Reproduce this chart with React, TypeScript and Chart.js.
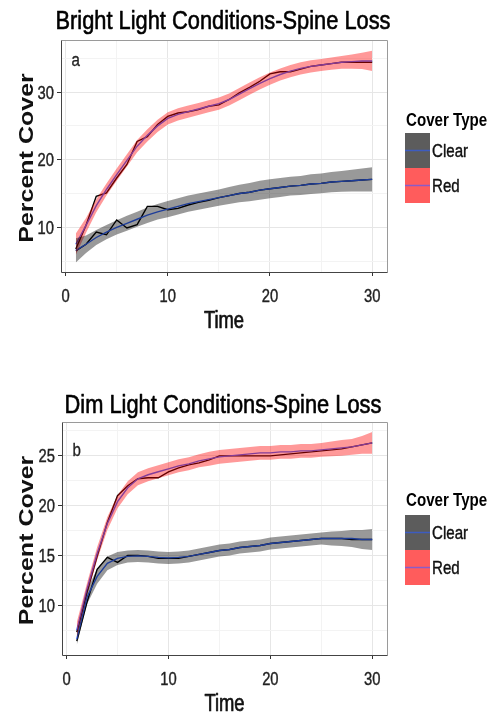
import React, { useEffect, useRef } from 'react';
import { Chart, registerables } from 'chart.js';

Chart.register(...registerables);

// ---------- data ----------
const timePoints = [1, 2, 3, 4, 5, 6, 7, 8, 9, 10, 11, 12, 13, 14, 15, 16, 17, 18, 19, 20, 21, 22, 23, 24, 25, 26, 27, 28, 29, 30];
const coverTypes = ['Clear', 'Red'];

const xMajorTicks = [0, 10, 20, 30];
const xMinorTicks = [5, 15, 25];

// Bright light (panel a)
const brightYMajor = [10, 20, 30];
const brightYMinor = [5, 15, 25, 35];
const brightClearRaw = [6.5, 7.5, 9.3, 8.9, 11.1, 9.9, 10.4, 13.1, 13.1, 12.6, 12.8, 13.3, 13.7, 14.0, 14.4, 14.7, 15.0, 15.2, 15.5, 15.7, 15.9, 16.1, 16.2, 16.4, 16.5, 16.7, 16.8, 16.9, 17.0, 17.1];
const brightClearFit = [6.6, 7.5, 8.5, 9.3, 10.0, 10.6, 11.2, 11.8, 12.3, 12.7, 13.1, 13.5, 13.8, 14.1, 14.4, 14.7, 15.0, 15.2, 15.5, 15.7, 15.9, 16.1, 16.2, 16.4, 16.5, 16.7, 16.8, 16.9, 17.0, 17.1];
const brightClearUpper = [8.4, 8.8, 9.6, 10.35, 11.05, 11.7, 12.3, 12.95, 13.45, 13.9, 14.3, 14.7, 15.0, 15.3, 15.6, 15.95, 16.3, 16.55, 16.9, 17.1, 17.3, 17.5, 17.6, 17.85, 17.95, 18.2, 18.35, 18.5, 18.7, 18.9];
const brightClearLower = [4.8, 6.2, 7.4, 8.25, 8.95, 9.5, 10.1, 10.65, 11.15, 11.5, 11.9, 12.3, 12.6, 12.9, 13.2, 13.45, 13.7, 13.85, 14.1, 14.3, 14.5, 14.7, 14.8, 14.95, 15.05, 15.2, 15.25, 15.3, 15.3, 15.3];
const brightRedRaw = [6.8, 10.3, 14.6, 15.1, 17.3, 19.3, 22.7, 23.4, 25.2, 26.4, 26.9, 27.1, 27.4, 27.9, 28.1, 28.9, 29.9, 30.7, 31.6, 32.7, 33.0, 33.0, 33.4, 33.8, 34.0, 34.2, 34.4, 34.4, 34.4, 34.4];
const brightRedFit = [7.5, 10.3, 13.2, 15.6, 17.8, 19.9, 22.0, 23.6, 25.0, 26.1, 26.7, 27.1, 27.5, 27.9, 28.3, 28.9, 29.7, 30.5, 31.3, 32.0, 32.6, 33.1, 33.5, 33.8, 34.0, 34.2, 34.4, 34.5, 34.6, 34.6];
const brightRedUpper = [9.1, 11.4, 14.15, 16.5, 18.7, 20.8, 22.9, 24.5, 25.9, 27.0, 27.6, 28.0, 28.4, 28.8, 29.2, 29.8, 30.6, 31.4, 32.2, 32.9, 33.5, 34.0, 34.4, 34.7, 34.9, 35.1, 35.35, 35.55, 35.8, 36.1];
const brightRedLower = [5.9, 9.2, 12.25, 14.7, 16.9, 19.0, 21.1, 22.7, 24.1, 25.2, 25.8, 26.2, 26.6, 27.0, 27.4, 28.0, 28.8, 29.6, 30.4, 31.1, 31.7, 32.2, 32.6, 32.9, 33.1, 33.3, 33.45, 33.45, 33.4, 33.1];

// Dim light (panel b)
const dimYMajor = [10, 15, 20, 25];
const dimYMinor = [7.5, 12.5, 17.5, 22.5, 27.5];
const dimClearRaw = [6.4, 10.3, 13.6, 14.8, 14.3, 15.0, 15.0, 14.9, 14.7, 14.7, 14.7, 14.9, 15.1, 15.3, 15.5, 15.6, 15.8, 15.9, 16.0, 16.2, 16.3, 16.4, 16.5, 16.6, 16.7, 16.7, 16.7, 16.6, 16.6, 16.6];
const dimClearFit = [6.6, 10.8, 12.9, 14.2, 14.7, 14.9, 14.95, 14.9, 14.8, 14.75, 14.8, 14.9, 15.1, 15.3, 15.5, 15.6, 15.8, 15.9, 16.0, 16.2, 16.3, 16.4, 16.5, 16.6, 16.7, 16.7, 16.7, 16.7, 16.6, 16.6];
const dimClearUpper = [7.2, 11.5, 13.65, 14.9, 15.35, 15.5, 15.55, 15.5, 15.4, 15.35, 15.4, 15.5, 15.7, 15.9, 16.1, 16.2, 16.4, 16.5, 16.6, 16.8, 16.9, 17.0, 17.1, 17.2, 17.3, 17.4, 17.45, 17.55, 17.55, 17.65];
const dimClearLower = [6.0, 10.1, 12.15, 13.5, 14.05, 14.3, 14.35, 14.3, 14.2, 14.15, 14.2, 14.3, 14.5, 14.7, 14.9, 15.0, 15.2, 15.3, 15.4, 15.6, 15.7, 15.8, 15.9, 16.0, 16.1, 16.0, 15.95, 15.85, 15.65, 15.55];
const dimRedRaw = [7.3, 11.3, 14.9, 18.3, 21.0, 22.0, 22.7, 22.8, 22.8, 23.4, 23.8, 24.1, 24.3, 24.6, 25.0, 25.0, 25.0, 25.0, 25.0, 25.0, 25.1, 25.2, 25.3, 25.4, 25.5, 25.6, 25.7, 25.9, 26.1, 26.3];
const dimRedFit = [7.5, 11.6, 15.2, 18.2, 20.4, 21.8, 22.7, 23.1, 23.4, 23.7, 24.0, 24.2, 24.5, 24.7, 24.9, 25.0, 25.1, 25.2, 25.3, 25.3, 25.4, 25.4, 25.5, 25.5, 25.6, 25.7, 25.8, 25.9, 26.1, 26.3];
const dimRedUpper = [8.3, 12.2, 15.85, 18.85, 21.05, 22.45, 23.35, 23.75, 24.05, 24.35, 24.65, 24.85, 25.15, 25.4, 25.6, 25.7, 25.8, 25.9, 26.0, 26.0, 26.1, 26.1, 26.2, 26.2, 26.3, 26.45, 26.6, 26.7, 27.0, 27.4];
const dimRedLower = [6.7, 11.0, 14.55, 17.55, 19.75, 21.15, 22.05, 22.45, 22.75, 23.05, 23.35, 23.55, 23.85, 24.0, 24.2, 24.3, 24.4, 24.5, 24.6, 24.6, 24.7, 24.7, 24.8, 24.8, 24.9, 24.95, 25.0, 25.1, 25.2, 25.2];

// ---------- styling ----------
const FONT = '"Liberation Sans", Arial, sans-serif';
const COMPRESS = 0.84;

type Panel = {
  title: string;
  letter: string;
  letterY: number;
  yMin: number;
  yMax: number;
  yMajor: number[];
  yMinor: number[];
  clearRaw: number[];
  clearFit: number[];
  clearUpper: number[];
  clearLower: number[];
  redRaw: number[];
  redFit: number[];
  redUpper: number[];
  redLower: number[];
  height: number;
  padTop: number;
  yWidth: number;
  xHeight: number;
  titleBaseline: number;
  legendTitleBaseline: number;
  legendBoxTop: number;
};

const panels: Panel[] = [
  {
    title: 'Bright Light Conditions-Spine Loss', letter: 'a', letterY: 34.6,
    yMin: 3.4, yMax: 37.7, yMajor: brightYMajor, yMinor: brightYMinor,
    clearRaw: brightClearRaw, clearFit: brightClearFit, clearUpper: brightClearUpper, clearLower: brightClearLower,
    redRaw: brightRedRaw, redFit: brightRedFit, redUpper: brightRedUpper, redLower: brightRedLower,
    height: 357, padTop: 40, yWidth: 61, xHeight: 85, titleBaseline: 29, legendTitleBaseline: 126, legendBoxTop: 133,
  },
  {
    title: 'Dim Light Conditions-Spine Loss', letter: 'b', letterY: 25.5,
    yMin: 5.0, yMax: 28.4, yMajor: dimYMajor, yMinor: dimYMinor,
    clearRaw: dimClearRaw, clearFit: dimClearFit, clearUpper: dimClearUpper, clearLower: dimClearLower,
    redRaw: dimRedRaw, redFit: dimRedFit, redUpper: dimRedUpper, redLower: dimRedLower,
    height: 358, padTop: 65, yWidth: 62, xHeight: 60, titleBaseline: 56, legendTitleBaseline: 149, legendBoxTop: 158,
  },
];

function pts(arr: number[]) {
  return timePoints.map((t, i) => ({ x: t, y: arr[i] }));
}

function txt(ctx: CanvasRenderingContext2D, text: string, x: number, y: number, font: string, sx: number,
  align: CanvasTextAlign, baseline: CanvasTextBaseline, color: string, heavy = 0) {
  ctx.save();
  ctx.translate(x, y);
  ctx.scale(sx, 1);
  ctx.font = font;
  ctx.textAlign = align;
  ctx.textBaseline = baseline;
  ctx.fillStyle = color;
  ctx.fillText(text, 0, 0);
  if (heavy > 0) {
    ctx.strokeStyle = color;
    ctx.lineWidth = heavy;
    ctx.lineJoin = 'round';
    ctx.strokeText(text, 0, 0);
  }
  ctx.restore();
}

function makeChart(canvas: HTMLCanvasElement, p: Panel) {
  const W = 492;
  const decorPlugin = {
    id: 'ggDecor',
    afterDraw(chart: any) {
      const ctx: CanvasRenderingContext2D = chart.ctx;
      const ca = chart.chartArea;
      const xs = chart.scales.x;
      const ys = chart.scales.y;
      // panel border
      ctx.save();
      ctx.lineWidth = 1;
      ctx.strokeStyle = '#9a9a9a';
      ctx.beginPath();
      ctx.moveTo(Math.round(ca.left) + 0.5, Math.round(ca.top) + 0.5);
      ctx.lineTo(Math.round(ca.right) + 0.5, Math.round(ca.top) + 0.5);
      ctx.lineTo(Math.round(ca.right) + 0.5, Math.round(ca.bottom) + 0.5);
      ctx.stroke();
      ctx.strokeStyle = '#444';
      ctx.beginPath();
      ctx.moveTo(Math.round(ca.left) + 0.5, Math.round(ca.top) + 0.5);
      ctx.lineTo(Math.round(ca.left) + 0.5, Math.round(ca.bottom) + 0.5);
      ctx.lineTo(Math.round(ca.right) + 0.5, Math.round(ca.bottom) + 0.5);
      ctx.stroke();
      ctx.restore();

      const tickFont = `18px ${FONT}`;
      // x tick labels
      for (const v of xMajorTicks) {
        txt(ctx, String(v), xs.getPixelForValue(v), ca.bottom + 30, tickFont, 0.82, 'center', 'alphabetic', '#222', 0.4);
      }
      // y tick labels
      for (const v of p.yMajor) {
        txt(ctx, String(v), ca.left - 7, ys.getPixelForValue(v) + 6.5, tickFont, 0.82, 'right', 'alphabetic', '#222', 0.4);
      }
      // axis titles
      txt(ctx, 'Time', (ca.left + ca.right) / 2, ca.bottom + 56, `23px ${FONT}`, 0.8, 'center', 'alphabetic', '#111', 0.7);
      ctx.save();
      ctx.translate(33, (ca.top + ca.bottom) / 2 + 2);
      ctx.rotate(-Math.PI / 2);
      ctx.scale(1, COMPRESS);
      ctx.font = `bold 25px ${FONT}`;
      ctx.textAlign = 'center';
      ctx.textBaseline = 'alphabetic';
      ctx.fillStyle = '#111';
      ctx.fillText('Percent Cover', 0, 0);
      ctx.restore();
      // title
      txt(ctx, p.title, 223, p.titleBaseline, `26px ${FONT}`, COMPRESS, 'center', 'alphabetic', '#000', 0.6);
      // panel letter
      txt(ctx, p.letter, xs.getPixelForValue(timePoints[0]), ys.getPixelForValue(p.letterY), `18px ${FONT}`, COMPRESS, 'center', 'middle', '#222', 0.3);
      // legend
      const lx = 405;
      const bw = 25;
      const bh = 35;
      txt(ctx, 'Cover Type', lx + 1, p.legendTitleBaseline, `bold 18px ${FONT}`, COMPRESS, 'left', 'alphabetic', '#000');
      const boxFill = ['#5c5c5c', '#ff5c5c'];
      const lineCol = ['#3d5cc0', '#8a5cc8'];
      coverTypes.forEach((name, i) => {
        const top = p.legendBoxTop + i * bh;
        ctx.fillStyle = boxFill[i];
        ctx.fillRect(lx, top, bw, bh);
        ctx.strokeStyle = lineCol[i];
        ctx.lineWidth = 1.5;
        ctx.beginPath();
        ctx.moveTo(lx, top + bh / 2);
        ctx.lineTo(lx + bw, top + bh / 2);
        ctx.stroke();
        txt(ctx, name, lx + bw + 2, top + bh / 2 + 6.5, `18px ${FONT}`, COMPRESS, 'left', 'alphabetic', '#111', 0.4);
      });
    },
  };

  const majorX = new Set(xMajorTicks);
  const majorY = new Set(p.yMajor);
  const gridColor = (set: Set<number>) => (c: any) => (set.has(c.tick?.value) ? '#e6e6e6' : '#f3f3f3');
  const tickColor = (set: Set<number>) => (c: any) => (set.has(c.tick?.value) ? '#333' : 'rgba(0,0,0,0)');

  const ribbon = (arr: number[], color: string, fill: any) => ({
    data: pts(arr), borderWidth: 0, borderColor: 'rgba(0,0,0,0)', backgroundColor: color,
    pointRadius: 0, fill, order: 0, tension: 0,
  });
  const line = (arr: number[], color: string, width: number, order: number) => ({
    data: pts(arr), borderWidth: width, borderColor: color, backgroundColor: color,
    pointRadius: 0, fill: false, order, tension: 0,
  });

  return new Chart(canvas, {
    type: 'line',
    data: {
      datasets: [
        ribbon(p.clearUpper, 'rgba(0,0,0,0.4)', '+1'),
        ribbon(p.clearLower, 'rgba(0,0,0,0.4)', false),
        ribbon(p.redUpper, 'rgba(255,0,0,0.4)', '+1'),
        ribbon(p.redLower, 'rgba(255,0,0,0.4)', false),
        line(p.clearRaw, '#000', 1.4, 2),
        line(p.clearFit, '#3366ff', 1.4, 1),
        line(p.redRaw, '#000', 1.4, 2),
        line(p.redFit, '#3366ff', 1.4, 1),
      ] as any,
    },
    options: {
      responsive: false,
      animation: false,
      devicePixelRatio: 1,
      layout: { padding: { left: 0, top: p.padTop, right: W - 387, bottom: 0 } },
      plugins: { legend: { display: false }, title: { display: false }, tooltip: { enabled: false } },
      events: [],
      scales: {
        x: {
          type: 'linear', min: -0.45, max: 31.45,
          afterBuildTicks: (s: any) => { s.ticks = [...xMajorTicks, ...xMinorTicks].sort((a, b) => a - b).map((v) => ({ value: v })); },
          afterFit: (s: any) => { s.height = p.xHeight; },
          ticks: { display: false },
          grid: { color: gridColor(majorX), lineWidth: 1, drawTicks: true, tickLength: 4, tickColor: tickColor(majorX), tickWidth: 1 },
          border: { display: false },
        },
        y: {
          type: 'linear', min: p.yMin, max: p.yMax,
          afterBuildTicks: (s: any) => { s.ticks = [...p.yMajor, ...p.yMinor].sort((a, b) => a - b).map((v) => ({ value: v })); },
          afterFit: (s: any) => { s.width = p.yWidth; },
          ticks: { display: false },
          grid: { color: gridColor(majorY), lineWidth: 1, drawTicks: true, tickLength: 4, tickColor: tickColor(majorY), tickWidth: 1 },
          border: { display: false },
        },
      },
    } as any,
    plugins: [decorPlugin],
  });
}

function PanelChart({ p }: { p: Panel }) {
  const ref = useRef<HTMLCanvasElement | null>(null);
  useEffect(() => {
    if (!ref.current) return;
    const c = makeChart(ref.current, p);
    return () => c.destroy();
  }, [p]);
  return <canvas ref={ref} width={492} height={p.height} style={{ display: 'block', width: 492, height: p.height }} />;
}

export default function App() {
  return (
    <div style={{ position: 'absolute', left: 0, top: 0, width: 492, height: 715, background: '#fff' }}>
      {panels.map((p) => (
        <PanelChart key={p.title} p={p} />
      ))}
    </div>
  );
}
